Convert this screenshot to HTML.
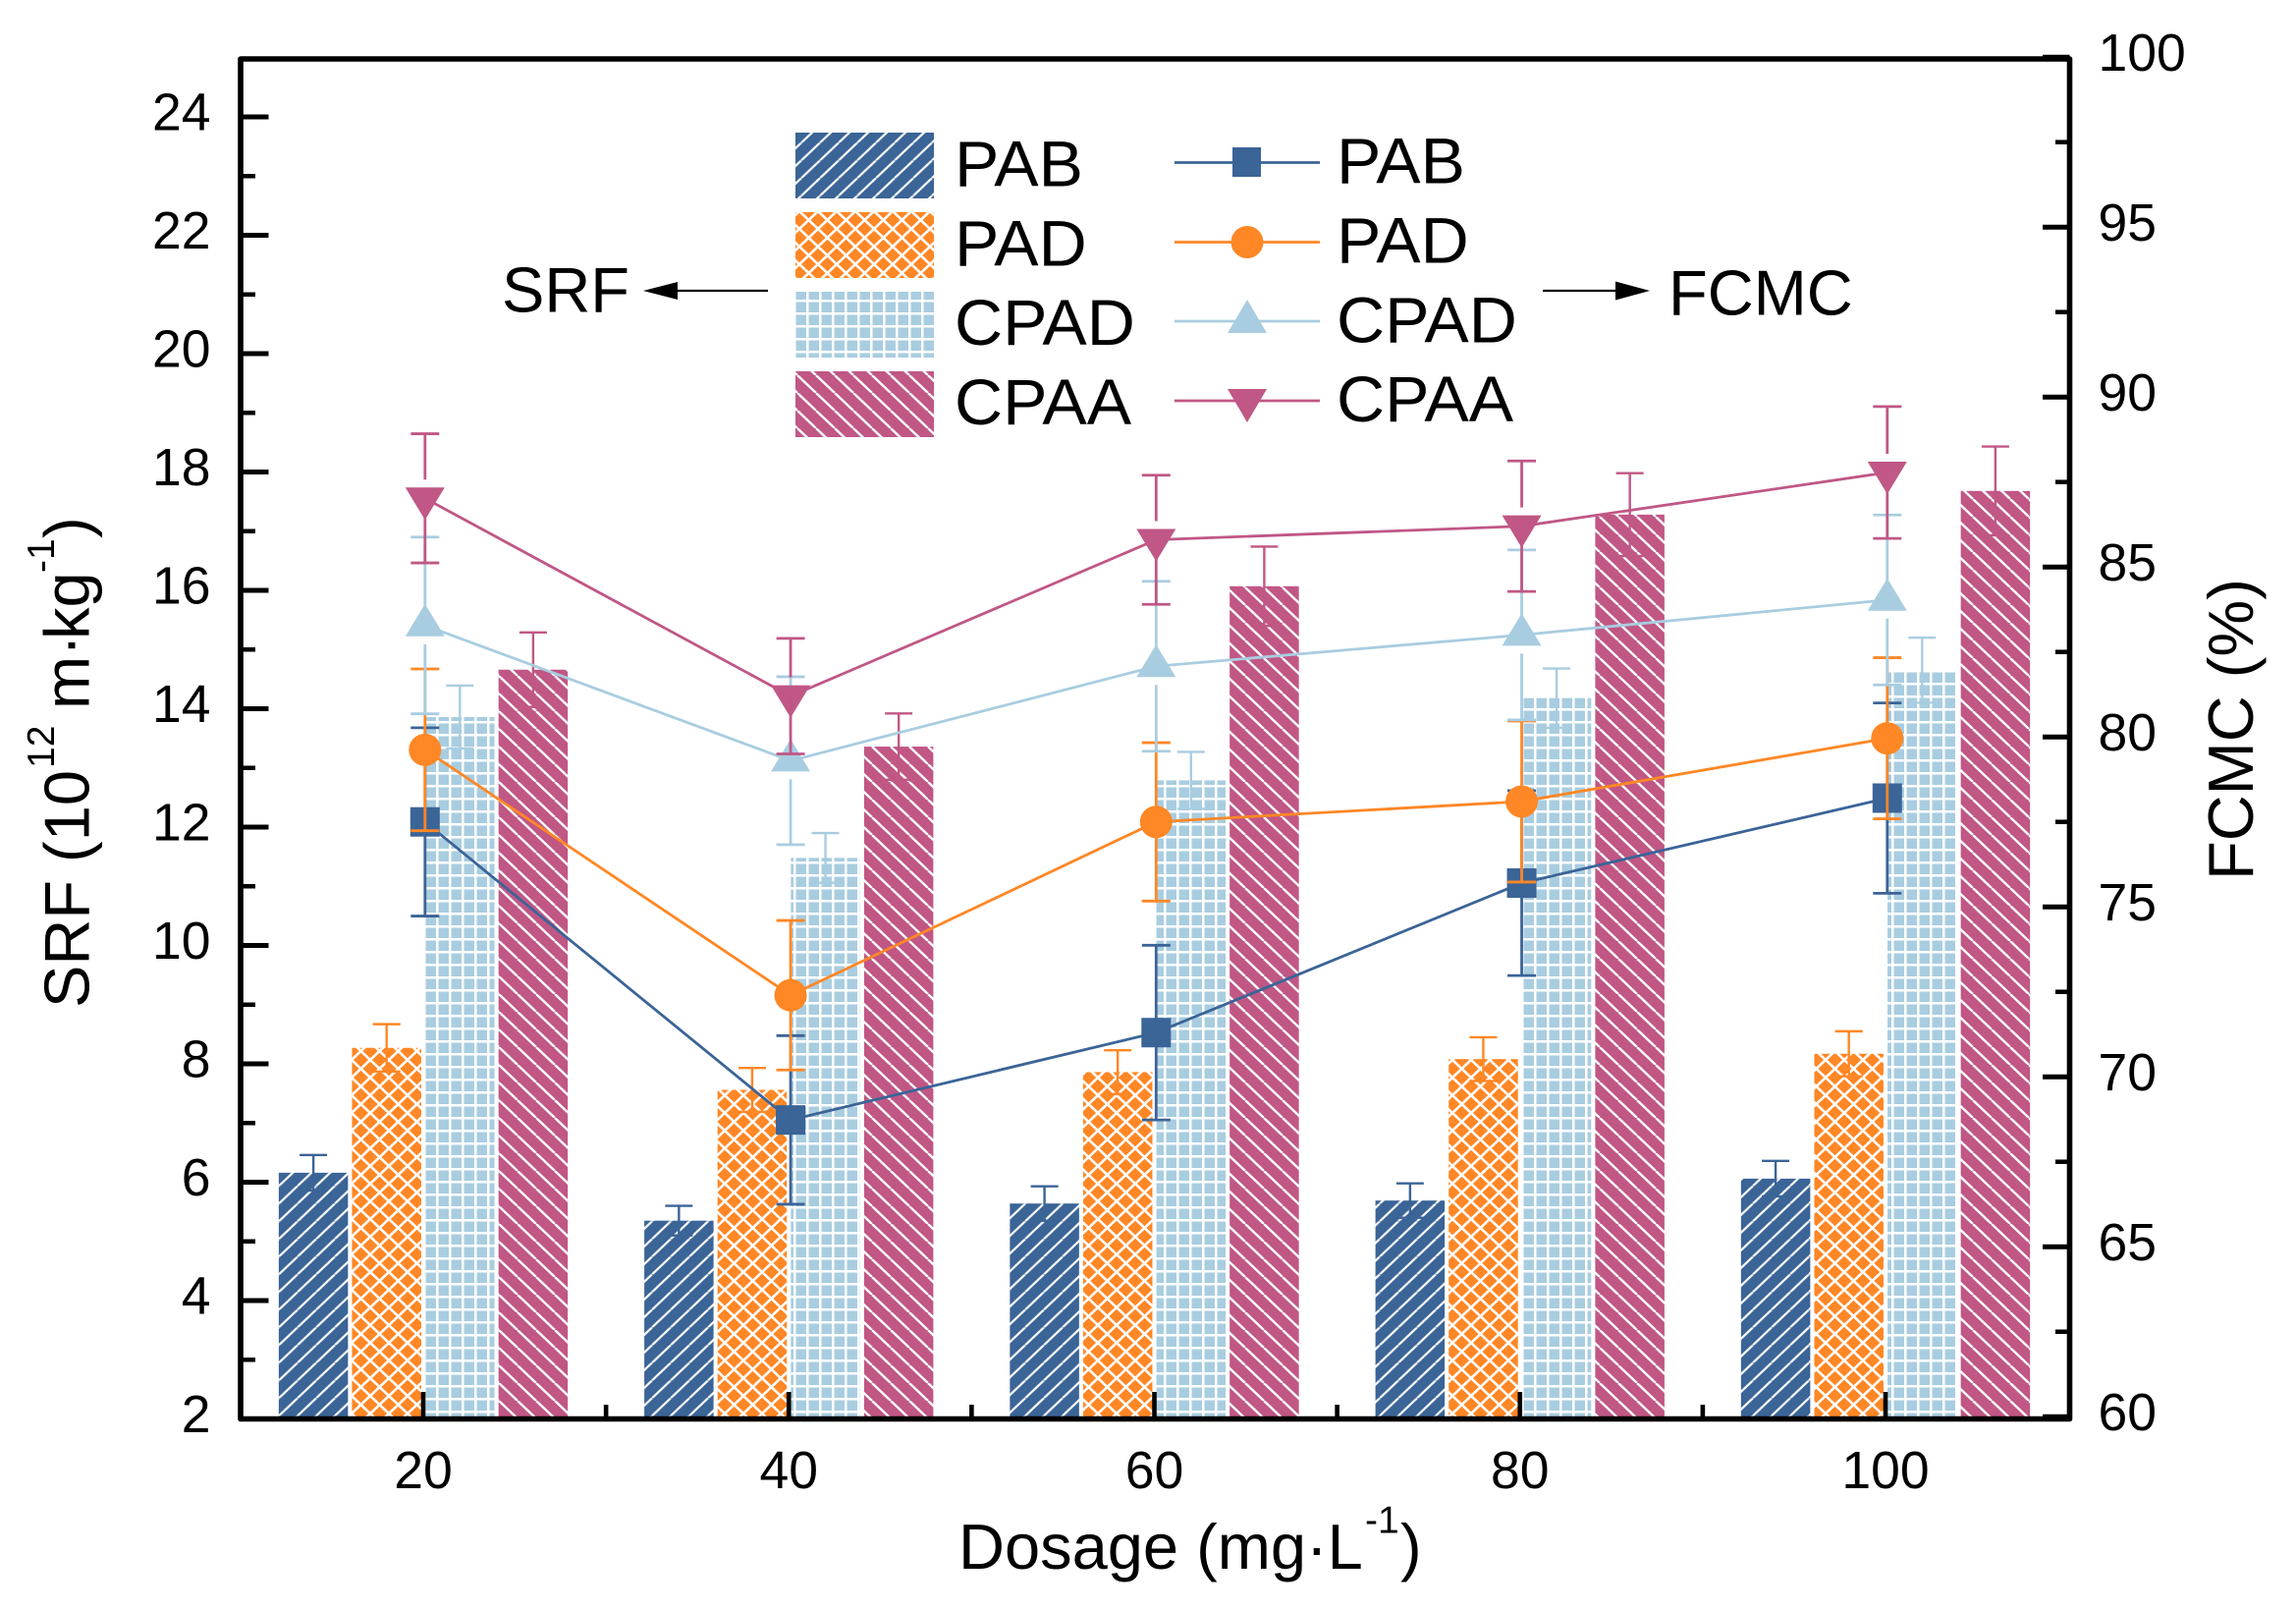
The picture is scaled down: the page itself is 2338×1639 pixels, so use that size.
<!DOCTYPE html>
<html lang="en">
<head>
<meta charset="utf-8">
<title>SRF and FCMC versus dosage</title>
<style>
html,body{margin:0;padding:0;background:#fff;}
svg{display:block;}
text{font-family:"Liberation Sans",Arial,sans-serif;fill:#000;}
</style>
</head>
<body>
<svg id="chart" xmlns="http://www.w3.org/2000/svg" width="2338" height="1639" viewBox="0 0 2338 1639">
  <defs>
    <pattern id="p-pab" patternUnits="userSpaceOnUse" x="284" y="1243.3" width="19" height="18">
      <rect width="19" height="18" fill="#3b6497"/>
      <path d="M0,18L19,0M-19,18L0,0M19,18L38,0" stroke="#fff" stroke-width="2.2" fill="none"/>
    </pattern>
    <pattern id="p-pad" patternUnits="userSpaceOnUse" x="358" y="1205" width="19" height="18">
      <rect width="19" height="18" fill="#ff8725"/>
      <path d="M0,18L19,0M-19,18L0,0M19,18L38,0M0,0L19,18M-19,0L0,18M19,0L38,18" stroke="#fff" stroke-width="2.6" fill="none"/>
    </pattern>
    <pattern id="p-cpad" patternUnits="userSpaceOnUse" x="444" y="1215" width="13" height="13">
      <rect width="13" height="13" fill="#a9cde0"/>
      <rect x="0" y="0" width="2.5" height="13" fill="#fff"/>
      <rect x="0" y="0" width="13" height="2.5" fill="#fff"/>
    </pattern>
    <pattern id="p-cpaa" patternUnits="userSpaceOnUse" x="508" y="1210" width="19" height="18">
      <rect width="19" height="18" fill="#c05785"/>
      <path d="M0,0L19,18M-19,0L0,18M19,0L38,18" stroke="#fff" stroke-width="2.4" fill="none"/>
    </pattern>
  </defs>

  <g id="bars"></g>
  <g id="axes"></g>
  <g id="lines"></g>

  <g>
    <rect x="810" y="135" width="141" height="67" fill="url(#p-pab)"/>
    <rect x="810" y="216" width="141" height="67" fill="url(#p-pad)"/>
    <rect x="810" y="297" width="141" height="67" fill="url(#p-cpad)"/>
    <rect x="810" y="378" width="141" height="67" fill="url(#p-cpaa)"/>
    <text transform="translate(972,189.5) scale(1.03,1)" font-size="66">PAB</text>
    <text transform="translate(972,270.5) scale(1.03,1)" font-size="66">PAD</text>
    <text transform="translate(972,351) scale(1.03,1)" font-size="66">CPAD</text>
    <text transform="translate(972,432) scale(1.03,1)" font-size="66">CPAA</text>

    <line x1="1196" x2="1344" y1="165.5" y2="165.5" stroke="#3b6497" stroke-width="2.8"/>
    <rect x="1255" y="150" width="29" height="30" fill="#3b6497"/>
    <line x1="1196" x2="1344" y1="246.5" y2="246.5" stroke="#ff8725" stroke-width="2.8"/>
    <circle cx="1270" cy="246.5" r="16.5" fill="#ff8725"/>
    <line x1="1196" x2="1344" y1="327" y2="327" stroke="#a9cde0" stroke-width="2.8"/>
    <path d="M1270,305L1290,339L1250,339Z" fill="#a9cde0"/>
    <line x1="1196" x2="1344" y1="408" y2="408" stroke="#c05785" stroke-width="2.8"/>
    <path d="M1250,396L1290,396L1270,430Z" fill="#c05785"/>
    <text transform="translate(1361,186.5) scale(1.03,1)" font-size="66">PAB</text>
    <text transform="translate(1361,267.5) scale(1.03,1)" font-size="66">PAD</text>
    <text transform="translate(1361,348.5) scale(1.03,1)" font-size="66">CPAD</text>
    <text transform="translate(1361,429) scale(1.03,1)" font-size="66">CPAA</text>
  </g>

  <g>
    <text x="511" y="317.5" font-size="65">SRF</text>
    <line x1="690" x2="782" y1="296" y2="296" stroke="#000" stroke-width="2.2"/>
    <path d="M655,296L690,287L690,305Z" fill="#000"/>
  </g>
  <g>
    <text x="1699" y="320.5" font-size="65">FCMC</text>
    <line x1="1571" x2="1646" y1="296" y2="296" stroke="#000" stroke-width="2.2"/>
    <path d="M1680,296L1645,286.5L1645,305.5Z" fill="#000"/>
  </g>

  <text y="1597" font-size="65"><tspan x="976">Dosage (mg·L</tspan><tspan x="1390" y="1560.5" font-size="39">-1</tspan><tspan x="1426" y="1597">)</tspan></text>

  <text transform="translate(90.7,1026) rotate(-90)" font-size="65"><tspan x="0" y="0">SRF (10</tspan><tspan x="244" y="-35.7" font-size="39">12</tspan><tspan x="304" y="0">m·</tspan><tspan x="375" y="0">kg</tspan><tspan x="443" y="-35.7" font-size="39">-1</tspan><tspan x="478" y="0">)</tspan></text>

  <text transform="translate(2294,896) rotate(-90)" font-size="65">FCMC (%)</text>
</svg>

<script>
// ---- data ----
const dosages = [20, 40, 60, 80, 100];
const leftMajorTicks = [2, 4, 6, 8, 10, 12, 14, 16, 18, 20, 22, 24];
const leftMinorTicks = [3, 5, 7, 9, 11, 13, 15, 17, 19, 21, 23];
const rightMajorTicks = [60, 65, 70, 75, 80, 85, 90, 95, 100];
const rightMinorTicks = [62.5, 67.5, 72.5, 77.5, 82.5, 87.5, 92.5, 97.5];
const xMinorTicks = [30, 50, 70, 90];

const srfPAB = [6.16, 5.35, 5.64, 5.69, 6.06];
const srfPAD = [8.27, 7.56, 7.86, 8.08, 8.17];
const srfCPAD = [13.86, 11.48, 12.79, 14.18, 14.65];
const srfCPAA = [14.66, 13.36, 16.07, 17.28, 17.68];

const srfErrPAB = [0.3, 0.25, 0.29, 0.29, 0.3];
const srfErrPAD = [0.4, 0.37, 0.37, 0.37, 0.38];
const srfErrCPAD = [0.53, 0.42, 0.48, 0.5, 0.55];
const srfErrCPAA = [0.63, 0.56, 0.67, 0.7, 0.75];

const fcmcPAB = [77.5, 68.73, 71.3, 75.7, 78.2];
const fcmcPAD = [79.62, 72.4, 77.5, 78.1, 79.96];
const fcmcCPAD = [83.28, 79.3, 82.08, 83.0, 84.03];
const fcmcCPAA = [87.02, 81.2, 85.8, 86.2, 87.78];

const fcmcErrPAB = [2.77, 2.48, 2.57, 2.72, 2.8];
const fcmcErrPAD = [2.38, 2.2, 2.33, 2.37, 2.37];
const fcmcErrCPAD = [2.6, 2.47, 2.5, 2.5, 2.5];
const fcmcErrCPAA = [1.9, 1.7, 1.9, 1.92, 1.94];

// ---- axis functions ----
function xPos(d) { return 431 + (d - 20) * 18.6125; }
function xLine(d) { return xPos(d) + 1.8; }
function yLeft(v) { return 1444.5 - (v - 2) * 60.25; }
function yRight(v) { return 1442.2 - (v - 60) * 34.6; }

const NS = 'http://www.w3.org/2000/svg';
function make(tag, attrs, parent) {
  const el = document.createElementNS(NS, tag);
  for (const k in attrs) el.setAttribute(k, attrs[k]);
  parent.appendChild(el);
  return el;
}

const barsG = document.getElementById('bars');
const axesG = document.getElementById('axes');
const linesG = document.getElementById('lines');

// ---- bars ----
const barSeries = [
  { key: 'pab', values: srfPAB, errs: srfErrPAB, color: '#3b6497', fill: 'url(#p-pab)', slot: -1.5 },
  { key: 'pad', values: srfPAD, errs: srfErrPAD, color: '#ff8725', fill: 'url(#p-pad)', slot: -0.5 },
  { key: 'cpad', values: srfCPAD, errs: srfErrCPAD, color: '#a9cde0', fill: 'url(#p-cpad)', slot: 0.5 },
  { key: 'cpaa', values: srfCPAA, errs: srfErrCPAA, color: '#c05785', fill: 'url(#p-cpaa)', slot: 1.5 }
];
const barWidth = 70.5;
const barPitch = 74.6;
barSeries.forEach(function (s) {
  dosages.forEach(function (d, i) {
    const cx = xPos(d) + s.slot * barPitch;
    const top = yLeft(s.values[i]);
    const bar = make('rect', { x: cx - barWidth / 2, y: top, width: barWidth, height: yLeft(2) - top, fill: s.fill }, barsG);
    
    
    const hi = yLeft(s.values[i] + s.errs[i]);
    const lo = yLeft(s.values[i] - s.errs[i]);
    const err = make('path', { d: 'M' + cx + ',' + hi + 'L' + cx + ',' + lo + 'M' + (cx - 14) + ',' + hi + 'L' + (cx + 14) + ',' + hi + 'M' + (cx - 14) + ',' + lo + 'L' + (cx + 14) + ',' + lo, stroke: s.color, 'stroke-width': 2.4, fill: 'none' }, barsG);
    
    
  });
});

// ---- axes ----
const frame = make('rect', { x: 245, y: 60, width: 1862.5, height: 1384.5, fill: 'none', stroke: '#000', 'stroke-width': 5.6, 'stroke-linejoin': 'round' }, axesG);



leftMajorTicks.forEach(function (v) {
  const y = yLeft(v);
  const t = make('line', { x1: 245, x2: 273.5, y1: y, y2: y, stroke: '#000', 'stroke-width': 5 }, axesG);
  
  
  const l = make('text', { x: 214.5, y: y + 13.5, 'font-size': 53.5, 'text-anchor': 'end' }, axesG);
  
  
  l.textContent = String(v);
});
leftMinorTicks.forEach(function (v) {
  const y = yLeft(v);
  const t = make('line', { x1: 245, x2: 260, y1: y, y2: y, stroke: '#000', 'stroke-width': 4.5 }, axesG);
  
  
});
rightMajorTicks.forEach(function (v) {
  const y = yRight(v);
  const t = make('line', { x1: 2107.5, x2: 2080, y1: y, y2: y, stroke: '#000', 'stroke-width': 5 }, axesG);
  
  
  const l = make('text', { x: 2136.5, y: y + 14, 'font-size': 53.5 }, axesG);
  
  
  l.textContent = String(v);
});
rightMinorTicks.forEach(function (v) {
  const y = yRight(v);
  const t = make('line', { x1: 2107.5, x2: 2093, y1: y, y2: y, stroke: '#000', 'stroke-width': 4.5 }, axesG);
  
  
});
dosages.forEach(function (d) {
  const x = xPos(d);
  const t = make('line', { x1: x, x2: x, y1: 1444, y2: 1417, stroke: '#000', 'stroke-width': 4.6 }, axesG);
  
  
  const l = make('text', { x: x, y: 1515, 'font-size': 53.5, 'text-anchor': 'middle' }, axesG);
  
  
  l.textContent = String(d);
});
xMinorTicks.forEach(function (d) {
  const x = xPos(d);
  const t = make('line', { x1: x, x2: x, y1: 1444, y2: 1430, stroke: '#000', 'stroke-width': 4.6 }, axesG);
  
  
});

// ---- line series ----
const lineSeries = [
  { key: 'pab', values: fcmcPAB, errs: fcmcErrPAB, color: '#3b6497', marker: 'square', gapTop: 0, gapBottom: 0 },
  { key: 'pad', values: fcmcPAD, errs: fcmcErrPAD, color: '#ff8725', marker: 'circle', gapTop: 0, gapBottom: 0 },
  { key: 'cpad', values: fcmcCPAD, errs: fcmcErrCPAD, color: '#a9cde0', marker: 'up', gapTop: 0, gapBottom: 19 },
  { key: 'cpaa', values: fcmcCPAA, errs: fcmcErrCPAA, color: '#c05785', marker: 'down', gapTop: 19, gapBottom: 0 }
];
lineSeries.forEach(function (s) {
  const pts = dosages.map(function (d, i) { return xLine(d) + ',' + yRight(s.values[i]); }).join(' ');
  const pl = make('polyline', { points: pts, fill: 'none', stroke: s.color, 'stroke-width': 2.8 }, linesG);
  
  
  dosages.forEach(function (d, i) {
    const x = xLine(d);
    const y = yRight(s.values[i]);
    let m;
    if (s.marker === 'square') {
      m = make('rect', { x: x - 15, y: y - 15, width: 30, height: 30, fill: s.color }, linesG);
    } else if (s.marker === 'circle') {
      m = make('circle', { cx: x, cy: y, r: 16.5, fill: s.color }, linesG);
    } else if (s.marker === 'up') {
      m = make('path', { d: 'M' + x + ',' + (y - 22) + 'L' + (x + 20) + ',' + (y + 11) + 'L' + (x - 20) + ',' + (y + 11) + 'Z', fill: s.color }, linesG);
    } else {
      m = make('path', { d: 'M' + (x - 20) + ',' + (y - 11) + 'L' + (x + 20) + ',' + (y - 11) + 'L' + x + ',' + (y + 22) + 'Z', fill: s.color }, linesG);
    }
    
    
    const hi = yRight(s.values[i] + s.errs[i]);
    const lo = yRight(s.values[i] - s.errs[i]);
    const e = make('path', { d: 'M' + x + ',' + hi + 'L' + x + ',' + (y - s.gapTop) + 'M' + x + ',' + (y + s.gapBottom) + 'L' + x + ',' + lo + 'M' + (x - 14.5) + ',' + hi + 'L' + (x + 14.5) + ',' + hi + 'M' + (x - 14.5) + ',' + lo + 'L' + (x + 14.5) + ',' + lo, stroke: s.color, 'stroke-width': 2.8, fill: 'none' }, linesG);
    
    
  });
});
</script>
</body>
</html>
